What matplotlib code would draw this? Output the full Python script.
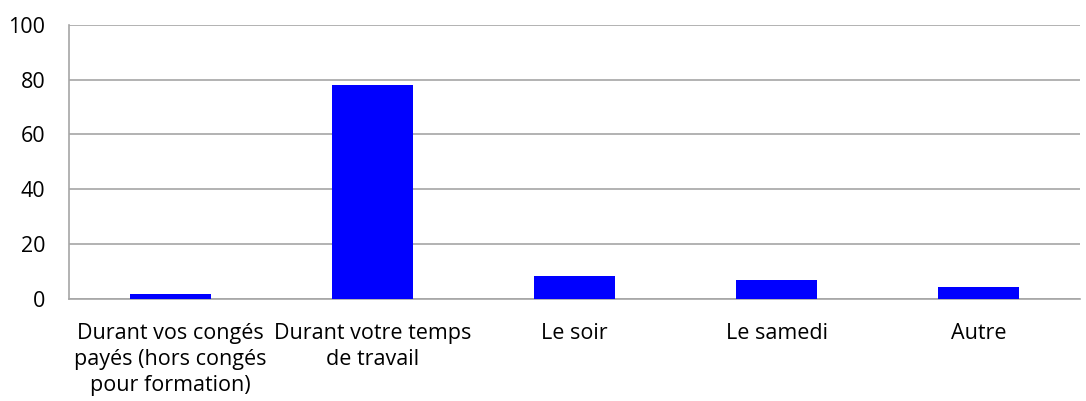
import matplotlib
matplotlib.use("Agg")
import matplotlib.pyplot as plt

categories = [
    "Durant vos congés\npayés (hors congés\npour formation)",
    "Durant votre temps\nde travail",
    "Le soir",
    "Le samedi",
    "Autre",
]
values = [1.5, 78.0, 8.2, 6.9, 4.2]
yticks = [0, 20, 40, 60, 80, 100]

BAR = "#0000ff"
GRID = "#a6a6a6"

plt.rcParams["font.family"] = ["Open Sans", "DejaVu Sans"]

fig = plt.figure(figsize=(10.86, 4.01), dpi=100)
ax = fig.add_axes([0.0635, 0.2556, 0.931, 0.6821])

x = range(len(categories))
ax.bar(x, values, width=0.4, color=BAR, zorder=3)

ax.set_xlim(-0.5, len(categories) - 0.5)
ax.set_ylim(0, 100)
ax.set_yticks(yticks)
ax.set_xticks(list(x))
ax.set_xticklabels(categories, fontsize=15.5, linespacing=1.33, va="top")

ax.yaxis.grid(True, color=GRID, linewidth=1.2, zorder=0)
ax.tick_params(axis="y", length=0, pad=17, labelsize=15.5)
ax.tick_params(axis="x", length=0, pad=17.5)

for side in ("top", "right"):
    ax.spines[side].set_visible(False)
for side in ("left", "bottom"):
    ax.spines[side].set_color(GRID)
    ax.spines[side].set_linewidth(1.2)

fig.savefig("out.png", dpi=100, facecolor="white")
